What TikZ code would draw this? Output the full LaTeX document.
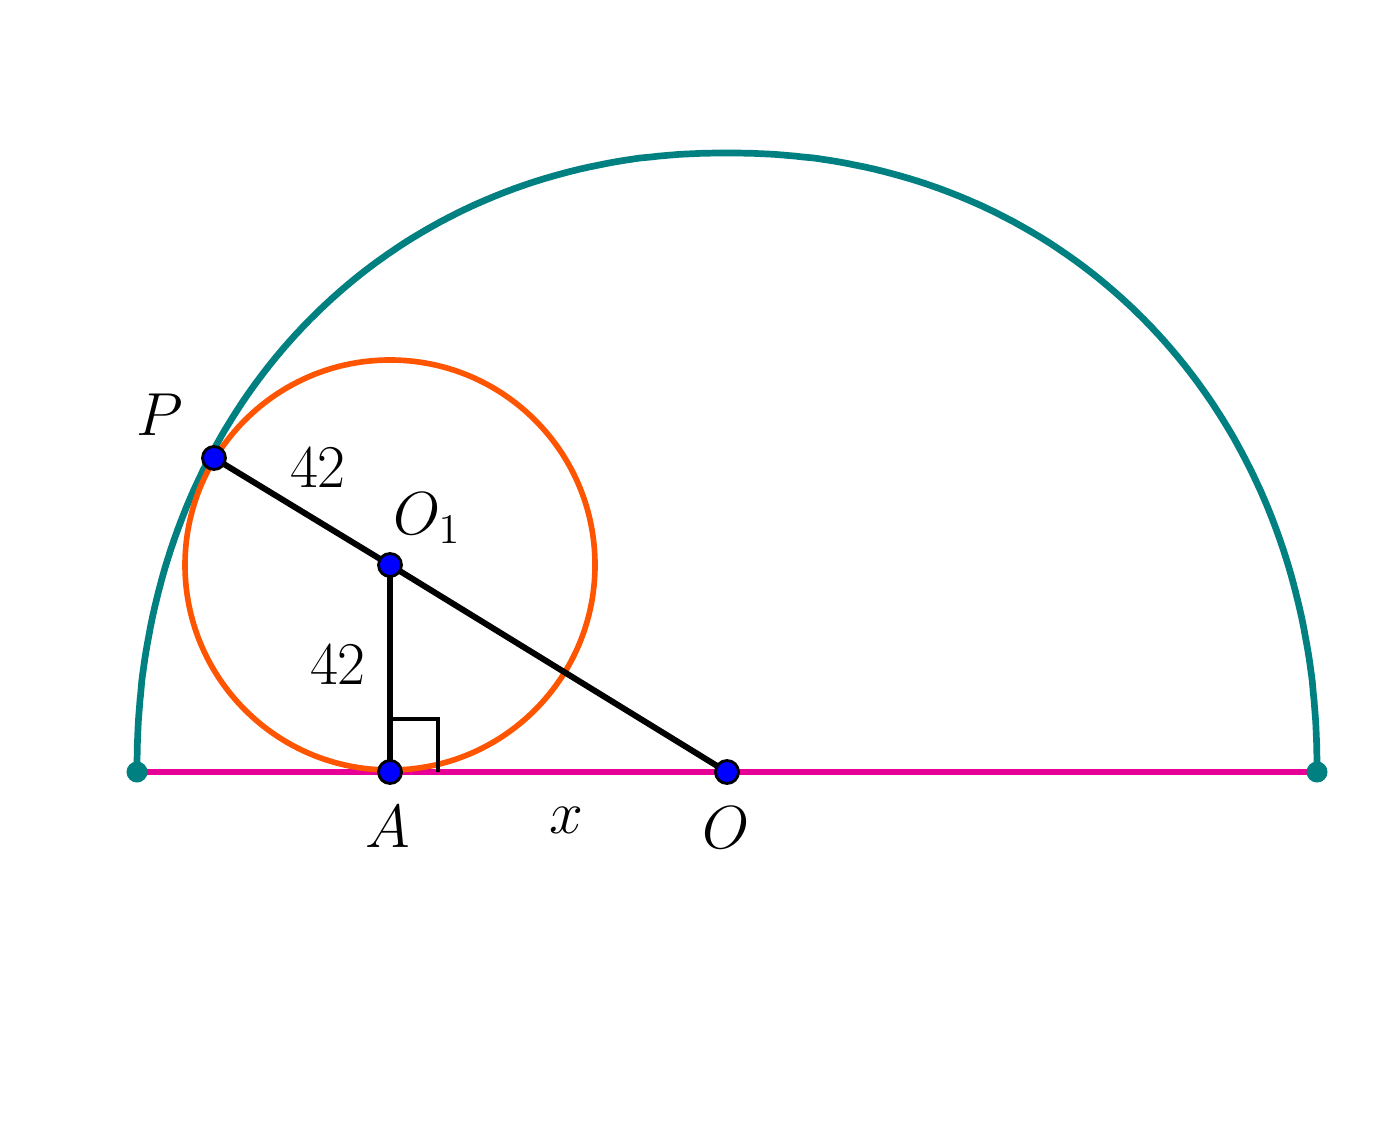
\documentclass[tikz,border=0pt]{standalone}
\usepackage{tikz}
\definecolor{tealc}{RGB}{0,128,128}
\definecolor{pinkc}{RGB}{230,0,150}
\definecolor{orangec}{RGB}{255,85,0}
\tikzset{
  bigarc/.style={draw=tealc, line width=1.9pt, line join=round},
  baseline/.style={draw=pinkc, line width=1.5pt},
  smallcirc/.style={draw=orangec, line width=1.6pt},
  seg/.style={draw=black, line width=1.7pt},
  rightmark/.style={draw=black, line width=0.95pt},
  bdot/.style={circle, fill=blue, draw=black, line width=0.8pt, minimum size=0.23cm, inner sep=0pt},
  tdot/.style={circle, fill=tealc, minimum size=0.21cm, inner sep=0pt},
  lbl/.style={font=\fontsize{17.3}{20}\selectfont, inner sep=0pt}
}
\begin{document}
\begin{tikzpicture}[x=0.01cm,y=0.01cm]
\useasboundingbox (0,0) rectangle (1392,1130);
\fill[white] (0,0) rectangle (1392,1130);
\coordinate (L) at (137,358);
\coordinate (R) at (1317,358);
\coordinate (O) at (727,358);
\coordinate (A) at (390,358);
\coordinate (O1) at (390,565);
\coordinate (P) at (214,672);
\coordinate (Q) at (438,358);
% big arc (slightly fuller than an ellipse)
\draw[bigarc] plot[domain=0:180, samples=361]
  ({727+590*sign(cos(\x))*pow(max(abs(cos(\x)),0.00001),0.952381)},
   {358+619*pow(max(abs(sin(\x)),0.00001),0.952381)});
% base line
\draw[baseline] (L) -- (R);
% small circle
\draw[smallcirc] (O1) circle[radius=205];
% right angle mark
\draw[rightmark] (A) ++(0,53) -- ++(48,0) -- (Q);
% segments
\draw[seg] (P) -- (O1) -- (O);
\draw[seg] (O1) -- (A);
% dots
\node[tdot] (Ld) at (L) {};
\node[tdot] (Rd) at (R) {};
\node[bdot] (Pd) at (P) {};
\node[bdot] (O1d) at (O1) {};
\node[bdot] (Ad) at (A) {};
\node[bdot] (Od) at (O) {};
% labels
\node[lbl] (lP) at (160,715) {$P$};
\node[lbl] (l42a) at (318,662) {$42$};
\node[lbl] (lO1) at (427,612) {$O_1$};
\node[lbl] (l42b) at (338,465) {$42$};
\node[lbl] (lA) at (388,303) {$A$};
\node[lbl] (lx) at (566,310) {$x$};
\node[lbl] (lO) at (726,302) {$O$};
\end{tikzpicture}
\end{document}
